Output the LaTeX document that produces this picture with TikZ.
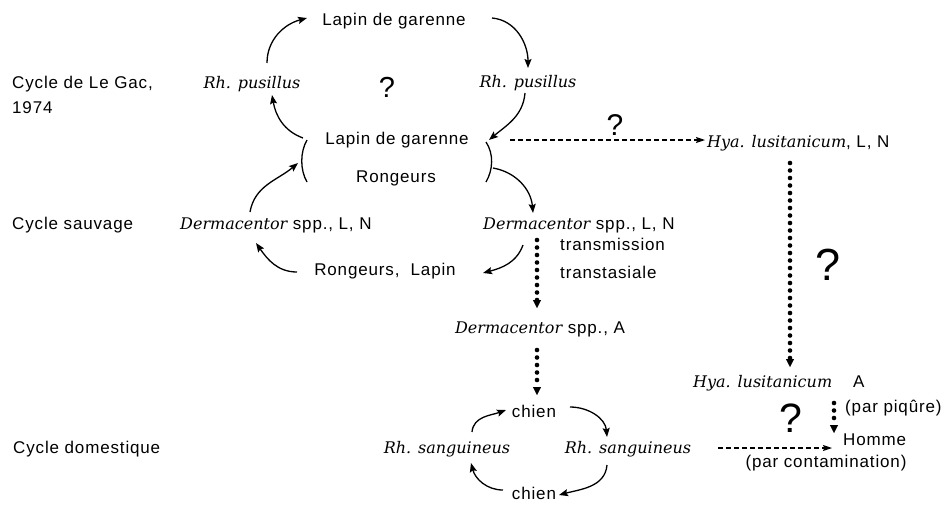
\documentclass[tikz,border=0pt]{standalone}
\usepackage{fontspec}
\setmainfont{Liberation Sans}[LetterSpace=5]
\newfontfamily\spfont{DejaVu Serif}
\usetikzlibrary{arrows.meta,calc}
\newcommand\species[1]{{\spfont\itshape\fontsize{16}{18}\selectfont #1}}
\tikzset{
  txt/.style={inner sep=0pt, anchor=base west, font=\fontsize{17}{20}\selectfont},
  ctxt/.style={inner sep=0pt, anchor=base, font=\fontsize{17}{20}\selectfont},
  qm/.style={inner sep=0pt, anchor=base},
  arr/.style={line width=1.3pt, -{Stealth[length=9pt,width=7pt,inset=1.5pt]}},
  brk/.style={line width=1.3pt},
  dotarr/.style={line width=4.6pt, line cap=round, dash pattern=on 0pt off 7.5pt,
     -{Triangle[length=8pt,width=8pt,line width=0.4pt]}},
  dasharr/.style={line width=1.2pt, dash pattern=on 5pt off 3pt,
     -{Stealth[length=9pt,width=6pt,inset=1.5pt]}}
}
\begin{document}
\begin{tikzpicture}[x=1pt,y=1pt]
\useasboundingbox (0,0) rectangle (947,-504);
% row labels
\node[txt] (gac1) at (12,-88) {Cycle de Le Gac,};
\node[txt] (gac2) at (12,-113) {1974};
\node[txt] (sauv) at (12,-229) {Cycle sauvage};
\node[txt] (dom) at (13,-453) {Cycle domestique};
% Le Gac cycle
\node[ctxt] (lapT) at (394,-25) {Lapin de garenne};
\node[ctxt] (rpL) at (252,-88) {\species{Rh. pusillus}};
\node[ctxt] (rpR) at (528,-87) {\species{Rh. pusillus}};
\node[qm, font=\fontsize{29}{30}\selectfont] (q1) at (387,-97) {?};
\node[ctxt] (lapM) at (397,-144) {Lapin de garenne};
\node[ctxt] (rong) at (396,-182) {Rongeurs};
\node[qm, font=\fontsize{30}{30}\selectfont] (q2) at (615,-135) {?};
\node[txt] (hyaLN) at (707,-147) {\species{Hya. lusitanicum}, L, N};
% wild cycle
\node[txt] (dermL) at (180,-229) {\species{Dermacentor} spp., L, N};
\node[txt] (dermR) at (483,-229) {\species{Dermacentor} spp., L, N};
\node[ctxt] (rongL) at (385,-275) {Rongeurs,\ \ Lapin};
\node[txt] (tr1) at (560,-250) {transmission};
\node[txt] (tr2) at (560,-278) {transtasiale};
\node[ctxt] (dermA) at (540,-333) {\species{Dermacentor} spp., A};
\node[qm, font=\fontsize{45}{45}\selectfont] (q3) at (828,-280) {?};
% domestic cycle
\node[txt] (hyaA) at (693,-387) {\species{Hya. lusitanicum}};
\node[txt] (aA) at (853,-387) {A};
\node[qm, font=\fontsize{41}{41}\selectfont] (q4) at (791,-432) {?};
\node[txt] (piq) at (845,-412) {(par piqûre)};
\node[txt] (homme) at (843,-445) {Homme};
\node[ctxt] (contam) at (826,-467) {(par contamination)};
\node[ctxt] (chienT) at (534,-417) {chien};
\node[ctxt] (sangL) at (447,-453) {\species{Rh. sanguineus}};
\node[ctxt] (sangR) at (628,-453) {\species{Rh. sanguineus}};
\node[ctxt] (chienB) at (534,-499) {chien};
% brackets
\draw[brk] ($(lapM.base)+(-90,4)$) .. controls ($(lapM.base)+(-97,-8)$) and ($(rong.base)+(-96,12)$) .. ($(rong.base)+(-89,0)$);
\draw[brk] ($(lapM.base)+(89,2)$) .. controls ($(lapM.base)+(97,-10)$) and ($(rong.base)+(97,12)$) .. ($(rong.base)+(90,0)$);
% Le Gac arcs
\draw[arr] ($(rpL.base)+(15,25)$) to[out=90,in=195] ($(lapT.base)+(-87,7)$);
\draw[arr] ($(lapT.base)+(98,7)$) to[out=-5,in=90] ($(rpR.base)+(0,19)$);
\draw[arr] ($(lapM.base)+(-94,6)$) to[out=160,in=-80] ($(rpL.base)+(20,-7)$);
\draw[arr] ($(rpR.base)+(-3,-6)$) to[out=-95,in=40] ($(lapM.base)+(92,4)$);
\draw[dasharr] ($(lapM.base)+(113,4)$) -- ($(hyaLN.base west)+(-2,7)$);
% wild arcs
\draw[arr] ($(dermL.base west)+(70,17)$) to[out=80,in=220] ($(rong.base)+(-98,19)$);
\draw[arr] ($(rong.base)+(97,14)$) to[out=-10,in=95] ($(dermR.base west)+(50,16)$);
\draw[arr] ($(rongL.base)+(-88,3)$) to[out=180,in=-55] ($(dermL.base west)+(76,-14)$);
\draw[arr] ($(dermR.base west)+(40,-16)$) to[out=-110,in=15] ($(rongL.base)+(98,2)$);
\draw[dotarr] ($(dermR.base west)+(54,-11)$) -- ($(dermA.base)+(-3,25)$);
\draw[dotarr] ($(dermA.base)+(-3,-17)$) -- ($(chienT.base)+(3,22)$);
\draw[dotarr] ($(hyaLN.base west)+(83,-16)$) -- ($(hyaA.base west)+(97,20)$);
% domestic arcs
\draw[arr] ($(sangL.base)+(25,21)$) to[out=85,in=200] ($(chienT.base)+(-28,7)$);
\draw[arr] ($(chienT.base)+(36,10)$) to[out=0,in=95] ($(sangR.base)+(-21,16)$);
\draw[arr] ($(sangR.base)+(-21,-12)$) to[out=-95,in=15] ($(chienB.base)+(25,4)$);
\draw[arr] ($(chienB.base)+(-31,9)$) to[out=180,in=-75] ($(sangL.base)+(24,-10)$);
\draw[dotarr] ($(aA.base west)+(-19,-16)$) -- ($(homme.base west)+(-9,12)$);
\draw[dasharr] ($(sangR.base)+(90,5)$) -- ($(homme.base west)+(-11,-3)$);
\end{tikzpicture}
\end{document}
